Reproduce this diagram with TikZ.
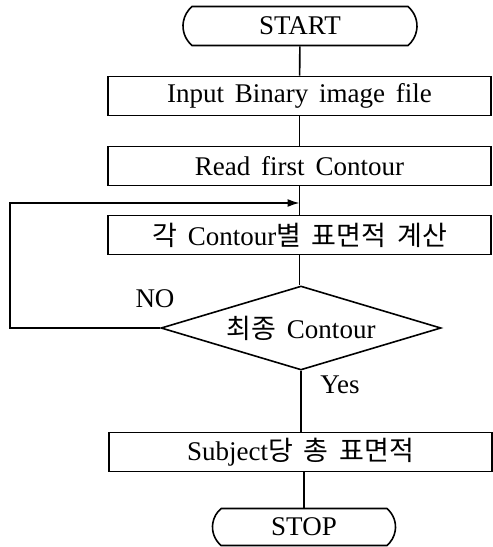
\documentclass[tikz,border=0pt]{standalone}
\usepackage{fontspec}
\setmainfont{Liberation Serif}
\newfontfamily\kr{Noto Sans CJK KR}
\usepackage{tikz}
\usetikzlibrary{shapes,arrows.meta,positioning}

\begin{document}
\begin{tikzpicture}[x=0.5pt, y=-0.5pt, font={\fontsize{13.5}{15}\selectfont\spaceskip=0.4em\relax}]
		\tikzstyle{Terminal}	= [rounded rectangle, rounded rectangle arc length=100, draw, line width=0.8pt, minimum width=117pt, minimum height=19.5pt, inner sep=0pt]
		\tikzstyle{Process}	= [rectangle, draw, line width=0.8pt, minimum width=191.5pt, minimum height=19.5pt, inner sep=0pt]
		\tikzstyle{Decision}	= [diamond, draw, line width=0.8pt, aspect=3.3, minimum width=140pt, minimum height=42pt, inner sep=0pt]
		\tikzstyle{Flow}	= [line width=0.8pt]
		\tikzstyle{Label}	= [inner sep=0pt]

		\useasboundingbox (0,0) rectangle (493,547);

		\node (start) at (300, 26) [Terminal] {START};
		\node (input) at (299.5, 96) [Process] {Input Binary image file};
		\node (read) at (299.5, 166) [Process] {Read first Contour};
		\node (calc) at (299.5, 235) [Process] {{\kr 각} Contour{\kr 별 표면적 계산}};
		\node (last) at (301, 328) [Decision] {{\kr 최종} Contour};
		\node (total) at (300.5, 452) [Process] {Subject{\kr 당 총 표면적}};
		\node (stop) at (304, 527) [Terminal, minimum width=91.5pt, minimum height=18.5pt] {STOP};

		\node (no) at (155, 299) [Label] {NO};
		\node (yes) at (340, 385) [Label] {Yes};

		\coordinate (back) at (10, 203);
		\coordinate (join) at (299.5, 203);

		\draw [-] (start) to (input) [Flow];
		\draw [-] (input) to (read) [Flow];
		\draw [-] (read) to (calc) [Flow];
		\draw [-] (calc.south) to (calc.south |- last.north) [Flow];
		\draw [-] (last.south) to (last.south |- total.north) [Flow];
		\draw [-] (total.south -| stop.north) to (stop.north) [Flow];
		\draw [-{Latex[length=6pt,width=4pt]}] (last.west) -| (back) -- (join) [Flow];
	\end{tikzpicture}
\end{document}
